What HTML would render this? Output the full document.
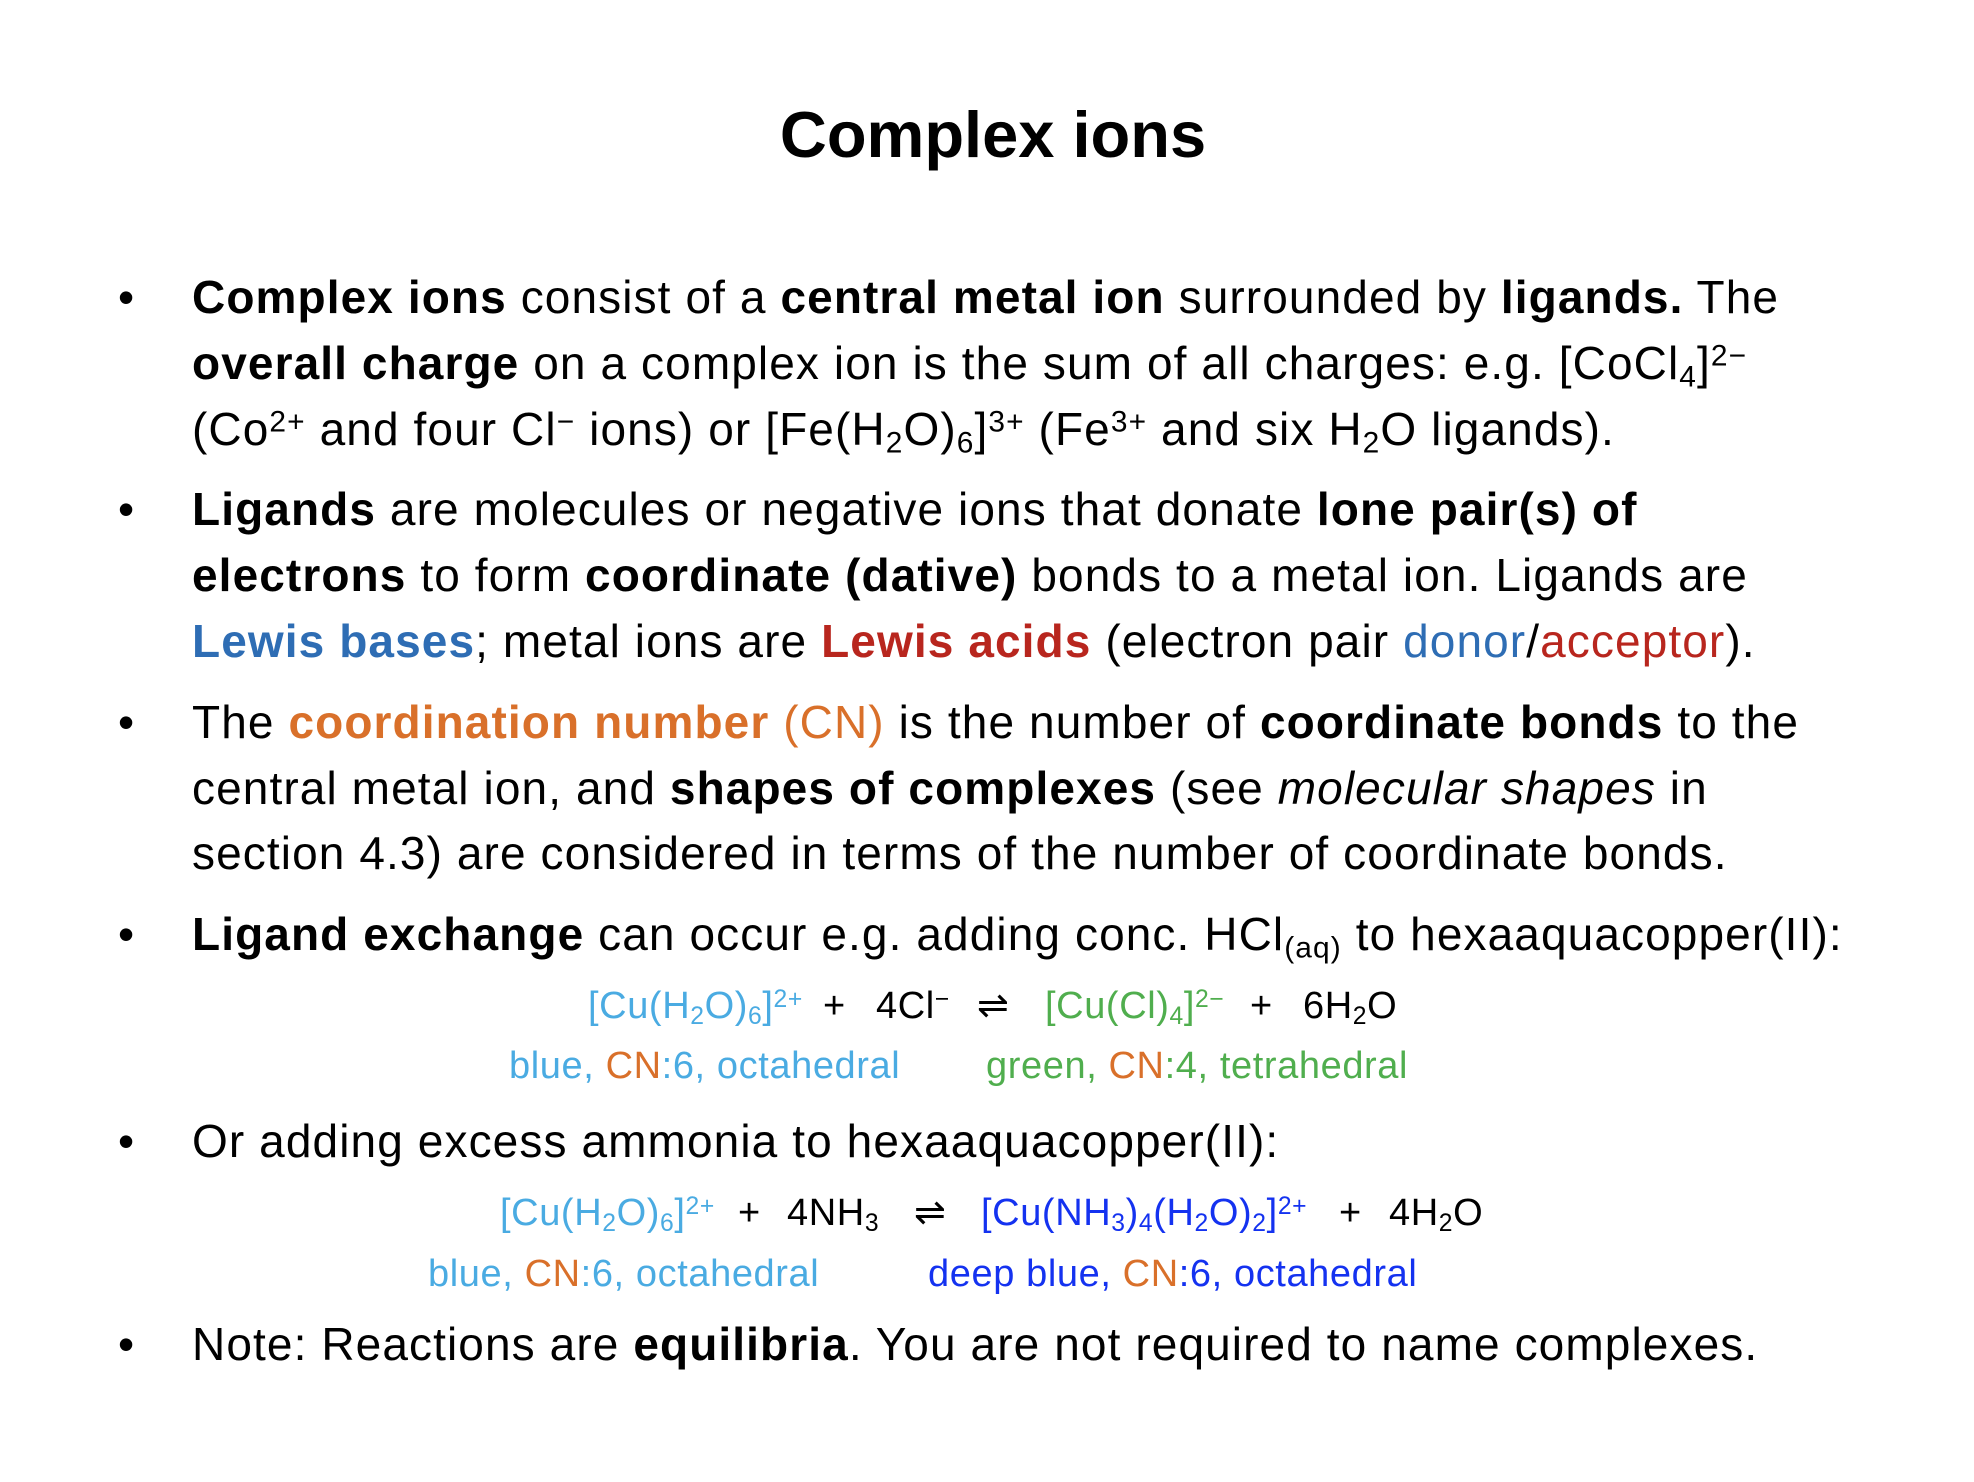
<!DOCTYPE html>
<html><head><meta charset="utf-8"><style>
body{margin:0;width:1974px;height:1482px;background:#fff;position:relative;font-family:"Liberation Sans",sans-serif;color:#000;overflow:hidden}
.l{position:absolute;font-size:46px;line-height:46px;white-space:nowrap;left:192px;letter-spacing:1.1px}
.b{position:absolute;left:118px;font-size:46px;line-height:46px}
.e{position:absolute;font-size:38px;line-height:38px;white-space:nowrap;letter-spacing:0.6px}
sub{font-size:0.65em;vertical-align:-0.25em;line-height:0}
sup{font-size:0.65em;vertical-align:0.45em;line-height:0}
.lb{color:#4aabe2}.or{color:#d9702a}.gr{color:#50ae4e}.db{color:#1432f0}.bb{color:#2e6db4}.rd{color:#b8261e}
</style></head><body>
<div style="position:absolute;top:102px;left:0;width:1986px;text-align:center;font-size:65px;font-weight:bold;line-height:65px">Complex ions</div>

<div class="b" style="top:274px">•</div>
<div class="l" style="top:274px"><b>Complex ions</b> consist of a <b>central metal ion</b> surrounded by <b>ligands.</b> The</div>
<div class="l" style="top:340px"><b>overall charge</b> on a complex ion is the sum of all charges: e.g. [CoCl<sub>4</sub>]<sup>2−</sup></div>
<div class="l" style="top:406px">(Co<sup>2+</sup> and four Cl<sup>−</sup> ions) or [Fe(H<sub>2</sub>O)<sub>6</sub>]<sup>3+</sup> (Fe<sup>3+</sup> and six H<sub>2</sub>O ligands).</div>

<div class="b" style="top:486px">•</div>
<div class="l" style="top:486px"><b>Ligands</b> are molecules or negative ions that donate <b>lone pair(s) of</b></div>
<div class="l" style="top:552px"><b>electrons</b> to form <b>coordinate (dative)</b> bonds to a metal ion. Ligands are</div>
<div class="l" style="top:618px"><b class="bb">Lewis bases</b>; metal ions are <b class="rd">Lewis acids</b> (electron pair <span class="bb">donor</span>/<span class="rd">acceptor</span>).</div>

<div class="b" style="top:699px">•</div>
<div class="l" style="top:699px">The <b class="or">coordination number</b> <span class="or">(CN)</span> is the number of <b>coordinate bonds</b> to the</div>
<div class="l" style="top:765px">central metal ion, and <b>shapes of complexes</b> (see <i>molecular shapes</i> in</div>
<div class="l" style="top:830px">section 4.3) are considered in terms of the number of coordinate bonds.</div>

<div class="b" style="top:911px">•</div>
<div class="l" style="top:911px"><b>Ligand exchange</b> can occur e.g. adding conc. HCl<sub>(aq)</sub> to hexaaquacopper(II):</div>

<div class="e lb" style="left:588px;top:987px">[Cu(H<sub>2</sub>O)<sub>6</sub>]<sup>2+</sup></div>
<div class="e" style="left:823px;top:987px">+</div>
<div class="e" style="left:876px;top:987px">4Cl<sup>−</sup></div>
<div class="e" style="left:977px;top:987px">⇌</div>
<div class="e gr" style="left:1045px;top:987px">[Cu(Cl)<sub>4</sub>]<sup>2−</sup></div>
<div class="e" style="left:1250px;top:987px">+</div>
<div class="e" style="left:1303px;top:987px">6H<sub>2</sub>O</div>
<div class="e lb" style="left:509px;top:1047px">blue, <span class="or">CN</span>:6, octahedral</div>
<div class="e gr" style="left:986px;top:1047px">green, <span class="or">CN</span>:4, tetrahedral</div>

<div class="b" style="top:1118px">•</div>
<div class="l" style="top:1118px">Or adding excess ammonia to hexaaquacopper(II):</div>

<div class="e lb" style="left:500px;top:1194px">[Cu(H<sub>2</sub>O)<sub>6</sub>]<sup>2+</sup></div>
<div class="e" style="left:738px;top:1194px">+</div>
<div class="e" style="left:787px;top:1194px">4NH<sub>3</sub></div>
<div class="e" style="left:914px;top:1194px">⇌</div>
<div class="e db" style="left:981px;top:1194px">[Cu(NH<sub>3</sub>)<sub>4</sub>(H<sub>2</sub>O)<sub>2</sub>]<sup>2+</sup></div>
<div class="e" style="left:1339px;top:1194px">+</div>
<div class="e" style="left:1389px;top:1194px">4H<sub>2</sub>O</div>
<div class="e lb" style="left:428px;top:1255px">blue, <span class="or">CN</span>:6, octahedral</div>
<div class="e db" style="left:928px;top:1255px">deep blue, <span class="or">CN</span>:6, octahedral</div>

<div class="b" style="top:1321px">•</div>
<div class="l" style="top:1321px">Note: Reactions are <b>equilibria</b>. You are not required to name complexes.</div>
</body></html>
